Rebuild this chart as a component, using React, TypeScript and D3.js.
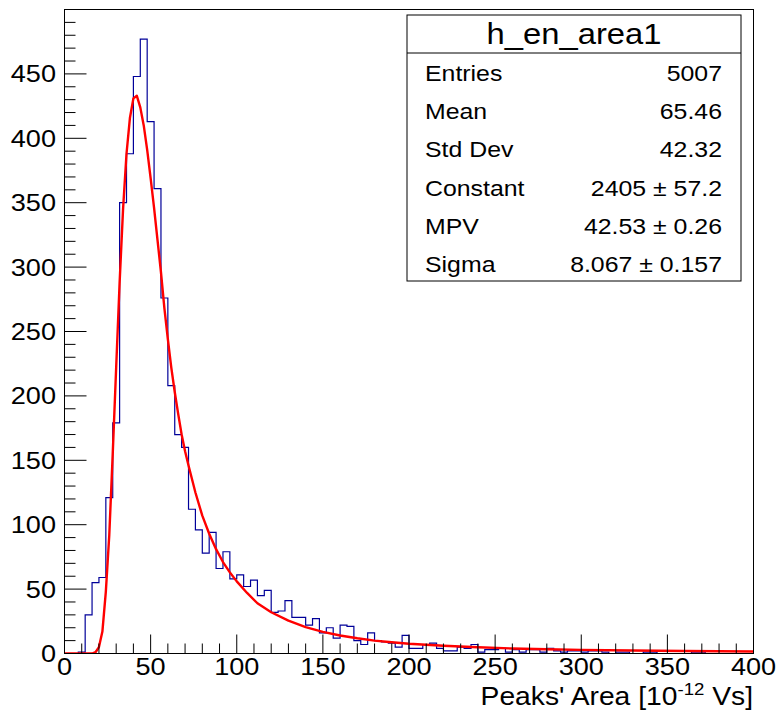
import React from "react";
import * as d3 from "d3";

// ---- data ----
const BIN_WIDTH = 4;
const COUNTS = [
  0, 0, 1, 30, 55, 59, 121, 179, 350, 388,
  448, 477, 413, 361, 276, 208, 170, 160, 112, 96,
  78, 94, 66, 79, 58, 61, 52, 57, 45, 49,
  32, 33, 41, 28, 28, 22, 27, 16, 20, 12,
  22, 21, 10, 7, 16, 10, 9, 8, 5, 14,
  4, 4, 7, 8, 4, 2, 2, 5, 4, 7,
  1, 3, 3, 4, 1, 3, 1, 3, 3, 1,
  4, 2, 1, 2, 2, 1, 2, 2, 1, 0,
  1, 1, 0, 0, 1, 1, 0, 0, 0, 0,
  0, 1, 1, 0, 0, 0, 0, 0, 0, 0,
];

const FIT_X = [
  0, 4, 8, 12, 16, 18, 20, 22, 24, 26, 28, 30, 32, 34, 36, 38, 40, 42, 44, 46,
  48, 50, 52, 54, 56, 58, 60, 62, 64, 66, 68, 70, 72, 76, 80, 84, 88, 92, 96, 100,
  106, 112, 120, 130, 140, 150, 160, 170, 180, 190, 200, 220, 240, 260, 280, 300,
  330, 360, 400,
];
const FIT_Y = [
  0, 0, 0, 0, 0, 1, 5, 17, 48, 92, 155, 222, 288, 345, 388, 416, 431, 433, 424, 410,
  391, 369, 346, 321, 296, 268, 244, 222, 203, 186, 170, 157, 146, 125, 107, 93, 81, 71, 63, 56,
  47, 39, 32, 25.5, 20.5, 16.8, 14, 11.8, 10, 8.7, 7.6, 6.0, 4.8, 3.9, 3.3, 2.8,
  2.3, 1.9, 1.5,
];

const X_TICKS = [0, 50, 100, 150, 200, 250, 300, 350, 400];
const Y_TICKS = [0, 50, 100, 150, 200, 250, 300, 350, 400, 450];

const TITLE = "h_en_area1";
const STAT_LABELS = ["Entries", "Mean", "Std Dev", "Constant", "MPV", "Sigma"];
const STAT_VALUES = ["5007", "65.46", "42.32", "2405 \u00b1 57.2", "42.53 \u00b1 0.26", "8.067 \u00b1 0.157"];

// ---- layout / style ----
const W = 780;
const H = 712;
const FONT = "'Liberation Sans', Arial, Helvetica, sans-serif";
const SX = 1.13;
const HIST_COLOR = "#000099";
const FIT_COLOR = "#ff0000";

function SText(props: {
  x: number;
  y: number;
  size: number;
  anchor?: "start" | "middle" | "end";
  children: React.ReactNode;
}) {
  const { x, y, size, anchor = "start", children } = props;
  return (
    <text
      transform={`translate(${x},${y}) scale(${SX},1)`}
      fontFamily={FONT}
      fontSize={size}
      textAnchor={anchor}
      fill="#000"
    >
      {children}
    </text>
  );
}

export default function App() {
  const x = d3.scaleLinear().domain([0, 400]).range([64.5, 753.5]);
  const y = d3.scaleLinear().domain([0, 500]).range([653.5, 9.5]);

  const stepPts: [number, number][] = [];
  COUNTS.forEach((c, i) => {
    stepPts.push([i * BIN_WIDTH, c]);
    stepPts.push([(i + 1) * BIN_WIDTH, c]);
  });
  const line = d3
    .line<[number, number]>()
    .x((d) => x(d[0]))
    .y((d) => y(d[1]));
  const histPath = line(stepPts) || "";
  const fitPath = line(FIT_X.map((v, i) => [v, FIT_Y[i]] as [number, number])) || "";

  const xMinor = d3.range(0, 401, 10);
  const yMinor = d3.range(0, 500, 10);

  const [x0, x1] = x.range();
  const [yb, yt] = y.range();

  const boxL = 407;
  const boxR = 741;
  const boxT = 15;
  const boxB = 281;
  const sepY = 53;
  const rowY0 = 73;
  const rowDY = 38.2;

  return (
    <svg
      width={W}
      height={H}
      style={{ position: "absolute", left: 0, top: 0, background: "#fff" }}
    >
      <rect x={0} y={0} width={W} height={H} fill="#fff" />
      <defs>
        <clipPath id="frameClip">
          <rect x={x0} y={yt} width={x1 - x0} height={yb - yt} />
        </clipPath>
      </defs>
      <g clipPath="url(#frameClip)">
        <path d={histPath} fill="none" stroke={HIST_COLOR} strokeWidth={1.2} />
        <path d={fitPath} fill="none" stroke={FIT_COLOR} strokeWidth={2.4} strokeLinejoin="round" />
      </g>

      {/* frame */}
      <rect x={x0} y={yt} width={x1 - x0} height={yb - yt} fill="none" stroke="#000" strokeWidth={1} />

      {/* x ticks */}
      {xMinor.map((v) => {
        const major = v % 50 === 0;
        return (
          <line
            key={"xt" + v}
            x1={x(v)}
            x2={x(v)}
            y1={yb}
            y2={yb - (major ? 19 : 10)}
            stroke="#000"
            strokeWidth={1}
          />
        );
      })}
      {X_TICKS.map((v) => (
        <SText key={"xl" + v} x={x(v)} y={675} size={24} anchor="middle">
          {v}
        </SText>
      ))}

      {/* y ticks */}
      {yMinor.map((v) => {
        const major = v % 50 === 0;
        return (
          <line
            key={"yt" + v}
            x1={x0}
            x2={x0 + (major ? 22 : 11)}
            y1={y(v)}
            y2={y(v)}
            stroke="#000"
            strokeWidth={1}
          />
        );
      })}
      {Y_TICKS.map((v) => (
        <SText key={"yl" + v} x={56} y={y(v) + 8.5} size={24} anchor="end">
          {v}
        </SText>
      ))}

      {/* axis title */}
      <SText x={753} y={705} size={25} anchor="end">
        {"Peaks' Area [10"}
        <tspan fontSize={16.5} dy={-10}>
          -12
        </tspan>
        <tspan dy={10}>{" Vs]"}</tspan>
      </SText>

      {/* stats box */}
      <rect x={boxL} y={boxT} width={boxR - boxL} height={boxB - boxT} fill="#fff" stroke="#000" strokeWidth={1} />
      <line x1={boxL} x2={boxR} y1={sepY} y2={sepY} stroke="#000" strokeWidth={1} />
      <SText x={(boxL + boxR) / 2} y={44} size={29} anchor="middle">
        {TITLE}
      </SText>
      {STAT_LABELS.map((lab, i) => (
        <g key={"st" + i}>
          <SText x={425} y={rowY0 + i * rowDY + 8} size={22} anchor="start">
            {lab}
          </SText>
          <SText x={722} y={rowY0 + i * rowDY + 8} size={22} anchor="end">
            {STAT_VALUES[i]}
          </SText>
        </g>
      ))}
    </svg>
  );
}
